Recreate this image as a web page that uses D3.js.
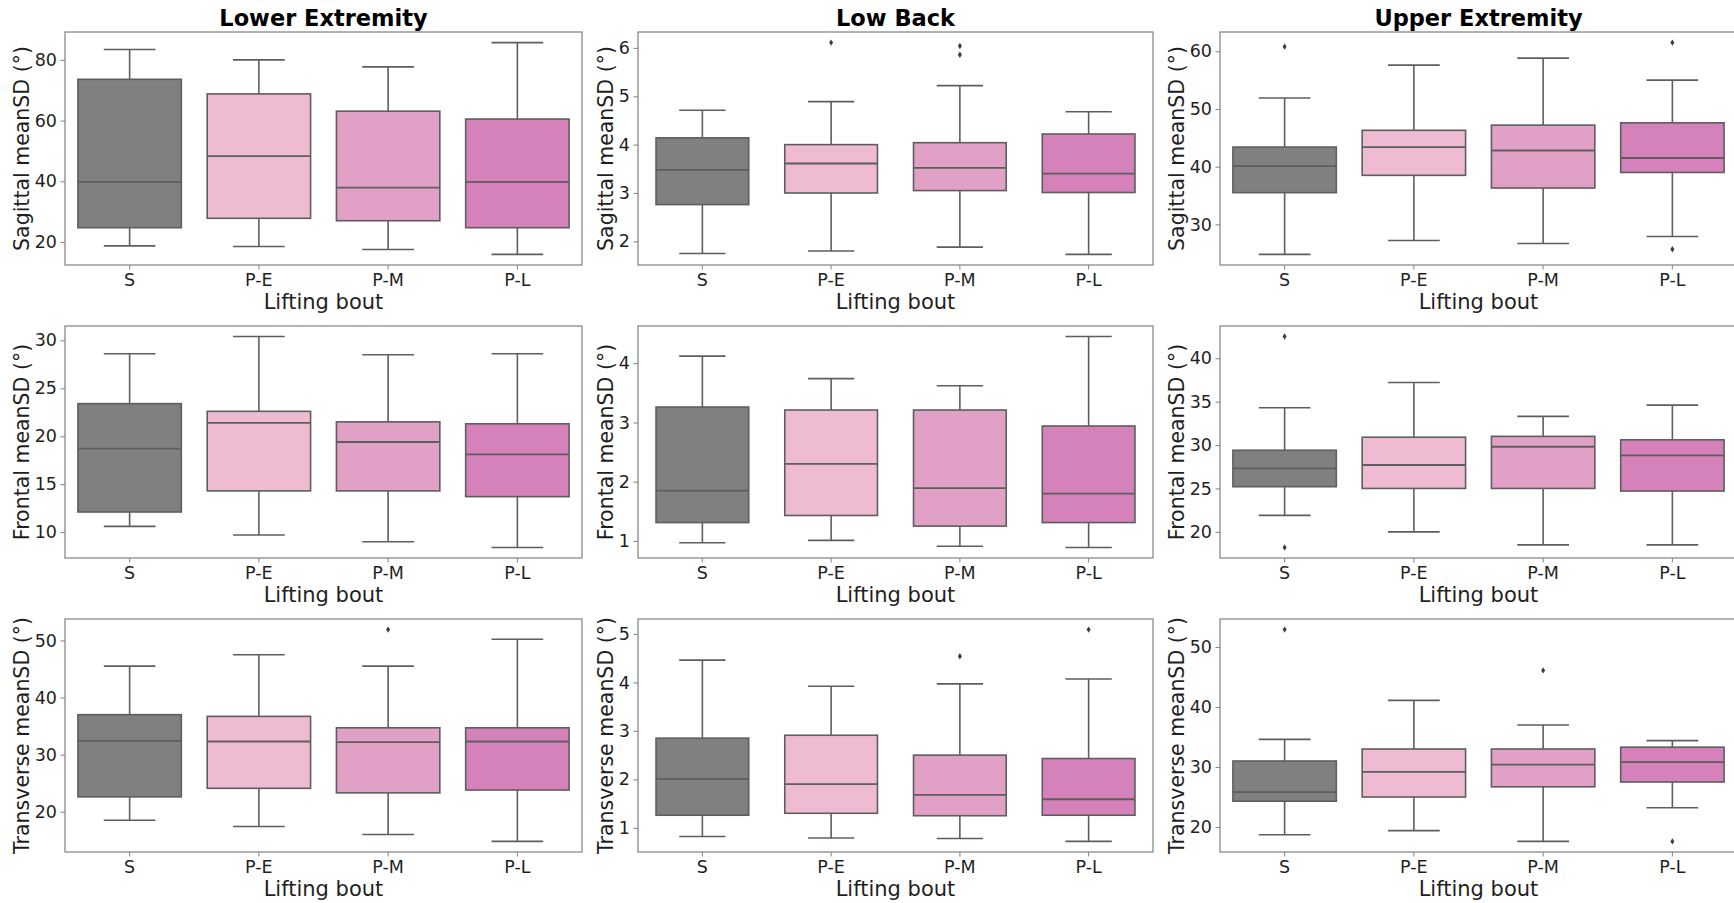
<!DOCTYPE html>
<html>
<head>
<meta charset="utf-8">
<script src="https://cdn.jsdelivr.net/npm/d3@7"></script>
<style>
  body { margin: 0; background: #fff; }
  svg { display: block; font-family: "DejaVu Sans", sans-serif; }
</style>
</head>
<body>
<svg id="chart" width="1734" height="903"></svg>
<script>
// categories and labels
const categories = ["S", "P-E", "P-M", "P-L"];
const regions = ["Lower Extremity", "Low Back", "Upper Extremity"];
const planes = ["Sagittal", "Frontal", "Transverse"];
const colors = ["#808080", "#efbbd2", "#e1a0c6", "#d581ba"];

// box stats per bout: [whiskerLow, q1, median, q3, whiskerHigh]
const lowerSagittal = [[18.7, 24.7, 39.8, 73.6, 83.4], [18.5, 27.8, 48.3, 68.8, 80.0], [17.5, 27.0, 37.9, 63.1, 77.7], [15.9, 24.7, 39.8, 60.5, 85.7]];
const backSagittal  = [[1.75, 2.76, 3.48, 4.14, 4.71], [1.80, 3.00, 3.61, 4.00, 4.89], [1.88, 3.05, 3.52, 4.04, 5.22], [1.73, 3.01, 3.40, 4.22, 4.68]];
const upperSagittal = [[24.8, 35.5, 40.1, 43.4, 51.9], [27.2, 38.5, 43.4, 46.3, 57.6], [26.7, 36.3, 42.8, 47.2, 58.8], [27.9, 39.0, 41.5, 47.6, 55.0]];
const lowerFrontal  = [[10.6, 12.1, 18.7, 23.4, 28.6], [9.7, 14.3, 21.4, 22.6, 30.4], [9.0, 14.3, 19.4, 21.5, 28.5], [8.4, 13.7, 18.1, 21.3, 28.6]];
const backFrontal   = [[0.97, 1.31, 1.85, 3.26, 4.12], [1.01, 1.43, 2.30, 3.21, 3.74], [0.91, 1.25, 1.89, 3.21, 3.62], [0.89, 1.31, 1.80, 2.94, 4.45]];
const upperFrontal  = [[21.9, 25.2, 27.3, 29.4, 34.3], [20.0, 25.0, 27.7, 30.9, 37.2], [18.5, 25.0, 29.8, 31.0, 33.3], [18.5, 24.7, 28.8, 30.6, 34.6]];
const lowerTransverse = [[18.5, 22.6, 32.4, 37.0, 45.5], [17.4, 24.1, 32.3, 36.7, 47.5], [16.0, 23.3, 32.2, 34.7, 45.5], [14.8, 23.8, 32.3, 34.7, 50.2]];
const backTransverse  = [[0.82, 1.26, 2.01, 2.85, 4.46], [0.79, 1.30, 1.90, 2.91, 3.92], [0.78, 1.25, 1.68, 2.50, 3.97], [0.72, 1.26, 1.59, 2.43, 4.07]];
const upperTransverse = [[18.7, 24.3, 25.8, 31.0, 34.6], [19.4, 25.0, 29.2, 33.0, 41.1], [17.6, 26.7, 30.4, 33.0, 37.0], [23.2, 27.5, 30.8, 33.3, 34.4]];

// outliers per bout
const lowerSagittalOut = [[], [], [], []];
const backSagittalOut  = [[], [6.11], [6.04, 5.86], []];
const upperSagittalOut = [[60.8], [], [], [61.5, 25.7]];
const lowerFrontalOut  = [[], [], [], []];
const backFrontalOut   = [[], [], [], []];
const upperFrontalOut  = [[42.5, 18.2], [], [], []];
const lowerTransverseOut = [[], [], [51.9], []];
const backTransverseOut  = [[], [], [4.54], [5.09]];
const upperTransverseOut = [[52.9], [], [46.1], [17.6]];

// y tick labels
const lowerSagittalTicks = [20, 40, 60, 80];
const backSagittalTicks = [2, 3, 4, 5, 6];
const upperSagittalTicks = [30, 40, 50, 60];
const lowerFrontalTicks = [10, 15, 20, 25, 30];
const backFrontalTicks = [1, 2, 3, 4];
const upperFrontalTicks = [20, 25, 30, 35, 40];
const lowerTransverseTicks = [20, 30, 40, 50];
const backTransverseTicks = [1, 2, 3, 4, 5];
const upperTransverseTicks = [20, 30, 40, 50];

const panels = [
  [lowerSagittal, lowerSagittalOut, lowerSagittalTicks],
  [backSagittal, backSagittalOut, backSagittalTicks],
  [upperSagittal, upperSagittalOut, upperSagittalTicks],
  [lowerFrontal, lowerFrontalOut, lowerFrontalTicks],
  [backFrontal, backFrontalOut, backFrontalTicks],
  [upperFrontal, upperFrontalOut, upperFrontalTicks],
  [lowerTransverse, lowerTransverseOut, lowerTransverseTicks],
  [backTransverse, backTransverseOut, backTransverseTicks],
  [upperTransverse, upperTransverseOut, upperTransverseTicks]
];

// layout
const colX = [[65, 582], [638, 1153], [1220, 1737]];
const rowY = [[32, 265], [326, 558], [619, 852]];
const boxFrac = [0.8, 0.72, 0.8];
const lineColor = "#5e5e5e";
const spineColor = "#8a8a8a";
const textColor = "#1f1f1f";

const svg = d3.select("#chart");
svg.append("rect").attr("width", 1734).attr("height", 903).attr("fill", "#fff");

panels.forEach(function(p, i) {
  const row = Math.floor(i / 3), col = i % 3;
  const [stats, outs, ticks] = p;
  const [x0, x1] = colX[col];
  const [y0, y1] = rowY[row];

  // y domain like matplotlib: data range with 5% margin
  const all = stats.flat().concat(outs.flat());
  const lo = d3.min(all), hi = d3.max(all);
  const pad = (hi - lo) * 0.05;

  const x = d3.scaleBand().domain(categories).range([x0, x1]);
  const y = d3.scaleLinear().domain([lo - pad, hi + pad]).range([y1, y0]);

  const g = svg.append("g");
  const bw = x.bandwidth() * boxFrac[col];
  const capW = bw * 0.5;

  categories.forEach(function(c, j) {
    const s = stats[j];
    const cx = x(c) + x.bandwidth() / 2;
    const bg = g.append("g");
    // whiskers
    bg.append("line").attr("x1", cx).attr("x2", cx).attr("y1", y(s[0])).attr("y2", y(s[1]));
    bg.append("line").attr("x1", cx).attr("x2", cx).attr("y1", y(s[3])).attr("y2", y(s[4]));
    bg.append("line").attr("x1", cx - capW / 2).attr("x2", cx + capW / 2).attr("y1", y(s[0])).attr("y2", y(s[0]));
    bg.append("line").attr("x1", cx - capW / 2).attr("x2", cx + capW / 2).attr("y1", y(s[4])).attr("y2", y(s[4]));
    bg.selectAll("line").attr("stroke", lineColor).attr("stroke-width", 1.6);
    // box
    bg.append("rect")
      .attr("x", cx - bw / 2).attr("width", bw)
      .attr("y", y(s[3])).attr("height", y(s[1]) - y(s[3]))
      .attr("fill", colors[j]).attr("stroke", lineColor).attr("stroke-width", 1.6);
    bg.append("line")
      .attr("x1", cx - bw / 2).attr("x2", cx + bw / 2)
      .attr("y1", y(s[2])).attr("y2", y(s[2]))
      .attr("stroke", lineColor).attr("stroke-width", 1.8);
    // outliers (thin diamonds)
    bg.selectAll("path.flier").data(outs[j]).enter().append("path")
      .attr("class", "flier")
      .attr("d", function(v) {
        const yy = y(v);
        return "M" + cx + "," + (yy - 3.2) + "L" + (cx + 2) + "," + yy + "L" + cx + "," + (yy + 3.2) + "L" + (cx - 2) + "," + yy + "Z";
      })
      .attr("fill", "#3d3d3d");
  });

  // axes
  const xAxis = g.append("g").attr("transform", "translate(0," + y1 + ")")
    .call(d3.axisBottom(x).tickSize(4.5).tickPadding(4));
  const yAxis = g.append("g").attr("transform", "translate(" + x0 + ",0)")
    .call(d3.axisLeft(y).tickValues(ticks).tickFormat(d3.format("~g")).tickSize(4.5).tickPadding(3.5));
  [xAxis, yAxis].forEach(function(a) {
    a.select(".domain").remove();
    a.selectAll(".tick line").attr("stroke", spineColor).attr("stroke-width", 1.1);
    a.selectAll(".tick text").attr("fill", textColor).style("font-size", "17.5px")
      .style("font-family", "DejaVu Sans, sans-serif");
  });

  // frame
  g.append("rect").attr("x", x0).attr("y", y0).attr("width", x1 - x0).attr("height", y1 - y0)
    .attr("fill", "none").attr("stroke", spineColor).attr("stroke-width", 1.3);

  // labels
  g.append("text").attr("x", (x0 + x1) / 2).attr("y", y1 + 44)
    .attr("text-anchor", "middle").attr("fill", textColor).style("font-size", "21px")
    .text("Lifting bout");

  const tw = d3.max(yAxis.selectAll(".tick text").nodes(), function(n) { return n.getBBox().width; });
  const lx = x0 - 8 - tw - 6;
  g.append("text")
    .attr("transform", "translate(" + lx + "," + ((y0 + y1) / 2) + ") rotate(-90)")
    .attr("text-anchor", "middle").attr("fill", textColor).style("font-size", "20.5px")
    .text(planes[row] + " meanSD (°)");

  if (row === 0) {
    g.append("text").attr("x", (x0 + x1) / 2).attr("y", 26)
      .attr("text-anchor", "middle").attr("fill", "#000")
      .style("font-size", "22.5px").style("font-weight", "bold")
      .text(regions[col]);
  }
});
</script>
</body>
</html>
